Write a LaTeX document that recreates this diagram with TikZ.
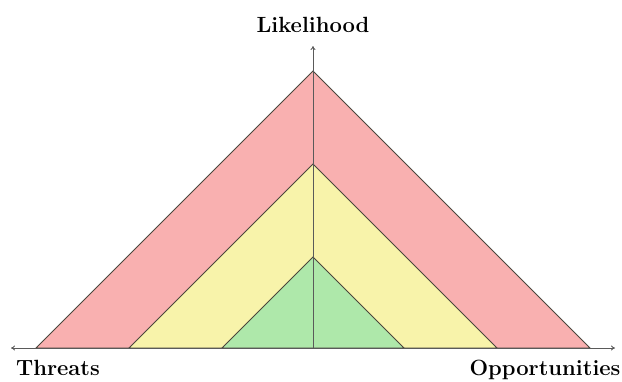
\documentclass[tikz,border=0pt]{standalone}
\usetikzlibrary{arrows.meta}
\definecolor{zonered}{RGB}{249,176,176}
\definecolor{zoneyellow}{RGB}{248,243,170}
\definecolor{zonegreen}{RGB}{174,232,170}
\definecolor{edgegray}{RGB}{75,70,60}
\definecolor{axisgray}{RGB}{90,90,90}
\tikzset{
  zone/.style={draw=edgegray, line width=0.9pt, line join=miter},
  axisline/.style={draw=axisgray, line width=0.9pt, -{To[length=4pt,width=5pt]}},
  axislabel/.style={font=\fontsize{22}{26}\selectfont\bfseries, inner sep=0pt, anchor=base}
}
\begin{document}
\begin{tikzpicture}[x=1pt,y=-1pt]
  \useasboundingbox (0,0) rectangle (622,381);
  % axis end points
  \coordinate (O) at (313,348);
  \coordinate (up) at (313,46);
  \coordinate (west) at (11,348);
  \coordinate (east) at (615,348);
  % nested risk zones, each a 45-degree triangle on the base line
  \filldraw[zone, fill=zonered]    (36,348)  -- (313,71)  -- (590,348) -- cycle;
  \filldraw[zone, fill=zoneyellow] (129,348) -- (313,164) -- (497,348) -- cycle;
  \filldraw[zone, fill=zonegreen]  (222,348) -- (313,257) -- (404,348) -- cycle;
  % axes
  \draw[axisline] (O) -- (up);
  \draw[axisline] (O) -- (west);
  \draw[axisline] (O) -- (east);
  % labels
  \node[axislabel] (likelihood) at (313,32) {Likelihood};
  \node[axislabel] (threats) at (58,375) {Threats};
  \node[axislabel] (opps) at (545,375) {Opportunities};
\end{tikzpicture}
\end{document}
